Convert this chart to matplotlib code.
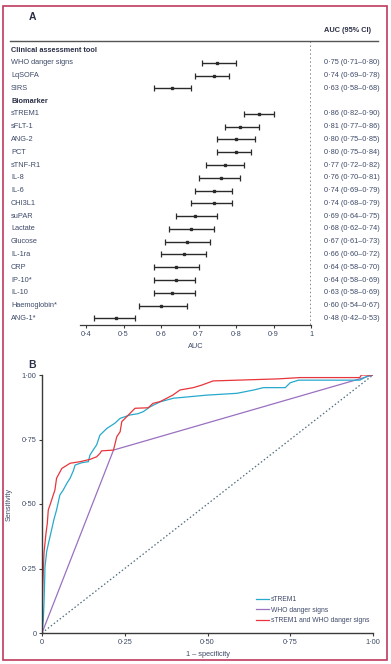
import numpy as np
import matplotlib
matplotlib.use('Agg')
import matplotlib.pyplot as plt
from matplotlib.lines import Line2D
from matplotlib.patches import Rectangle

plt.rcParams['font.family'] = ['Liberation Sans Narrow', 'Liberation Sans', 'DejaVu Sans']

# ---- panel A data ----
groups = ['Clinical assessment tool', 'Biomarker']
clin_labels = ['WHO danger signs', 'LqSOFA', 'SIRS']
clin_auc = [0.75, 0.74, 0.63]
clin_lo = [0.71, 0.69, 0.58]
clin_hi = [0.80, 0.78, 0.68]

bio_labels = ['sTREM1', 'sFLT-1', 'ANG-2', 'PCT', 'sTNF-R1', 'IL-8', 'IL-6', 'CHI3L1',
              'suPAR', 'Lactate', 'Glucose', 'IL-1ra', 'CRP', 'IP-10*', 'IL-10',
              'Haemoglobin*', 'ANG-1*']
bio_auc = [0.86, 0.81, 0.80, 0.80, 0.77, 0.76, 0.74, 0.74, 0.69, 0.68, 0.67, 0.66,
           0.64, 0.64, 0.63, 0.60, 0.48]
bio_lo = [0.82, 0.77, 0.75, 0.75, 0.72, 0.70, 0.69, 0.68, 0.64, 0.62, 0.61, 0.60,
          0.58, 0.58, 0.58, 0.54, 0.42]
bio_hi = [0.90, 0.86, 0.85, 0.84, 0.82, 0.81, 0.79, 0.79, 0.75, 0.74, 0.73, 0.72,
          0.70, 0.69, 0.69, 0.67, 0.53]

forest_ticks = [0.4, 0.5, 0.6, 0.7, 0.8, 0.9, 1.0]

# ---- panel B data ----
strem1_fpr = [0, 0.004, 0.006, 0.008, 0.009, 0.012, 0.014, 0.02, 0.029, 0.036, 0.044, 0.054,
              0.064, 0.075, 0.085, 0.095, 0.10, 0.12, 0.14, 0.145, 0.155, 0.165, 0.175, 0.196,
              0.22, 0.236, 0.266, 0.29, 0.306, 0.327, 0.357, 0.397, 0.498, 0.589, 0.64, 0.669,
              0.735, 0.75, 0.775, 0.96, 0.985, 1.0]
strem1_tpr = [0, 0.05, 0.115, 0.2, 0.257, 0.29, 0.315, 0.35, 0.40, 0.44, 0.477, 0.535,
              0.554, 0.58, 0.60, 0.63, 0.651, 0.66, 0.664, 0.69, 0.71, 0.729, 0.767, 0.793,
              0.813, 0.832, 0.845, 0.85, 0.858, 0.877, 0.896, 0.91, 0.922, 0.929, 0.942, 0.951,
              0.951, 0.97, 0.98, 0.98, 0.997, 1.0]

who_fpr = [0, 0.216, 1.0]
who_tpr = [0, 0.709, 1.0]

comb_fpr = [0, 0.0, 0.002, 0.006, 0.012, 0.016, 0.019, 0.026, 0.034, 0.039, 0.044, 0.06,
            0.085, 0.115, 0.145, 0.165, 0.175, 0.18, 0.216, 0.226, 0.236, 0.241, 0.261, 0.281,
            0.321, 0.335, 0.357, 0.377, 0.395, 0.417, 0.457, 0.483, 0.517, 0.714, 0.78, 0.96,
            0.965, 1.0]
comb_tpr = [0, 0.05, 0.167, 0.31, 0.386, 0.425, 0.477, 0.503, 0.535, 0.554, 0.60, 0.638,
            0.658, 0.664, 0.673, 0.683, 0.696, 0.706, 0.709, 0.761, 0.78, 0.819, 0.845, 0.871,
            0.873, 0.89, 0.897, 0.91, 0.922, 0.942, 0.951, 0.961, 0.977, 0.985, 0.99, 0.99,
            1.0, 1.0]

roc_ticks = [0, 0.25, 0.5, 0.75, 1.0]
roc_ticklabels = ['0', '0·25', '0·50', '0·75', '1·00']

txt_col = '#3e4a68'
axis_col = '#3a3a3a'
fs = 5.3


def fmt(v):
    return '{:.2f}'.format(v).replace('.', '·')


W, H = 391, 664
fig = plt.figure(figsize=(W / 100, H / 100), dpi=100)

# red frame
fig.patches.append(Rectangle((3 / W, 4 / H), 384 / W, 654 / H, transform=fig.transFigure,
                             fill=False, edgecolor='#bf3a5e', linewidth=1.2))

# ---------------- panel A ----------------
axA = fig.add_axes([80.4 / W, 1 - 325 / H, (311 - 80.4) / W, (325 - 41) / H])
row_h = 12.78
axA.set_ylim((325 - 50) / row_h, (41 - 50) / row_h)
axA.set_xlim(0.385, 1.0)

rows = []
rows.append((groups[0], None, None, None, True))
for i in range(len(clin_labels)):
    rows.append((clin_labels[i], clin_auc[i], clin_lo[i], clin_hi[i], False))
rows.append((groups[1], None, None, None, True))
for i in range(len(bio_labels)):
    rows.append((bio_labels[i], bio_auc[i], bio_lo[i], bio_hi[i], False))

tr_lab = matplotlib.transforms.blended_transform_factory(fig.transFigure, axA.transData)
for y, (lab, auc, lo, hi, head) in enumerate(rows):
    if head:
        axA.text(11 / W, y, lab, transform=tr_lab, fontsize=fs, fontweight='bold',
                 color='#2a2f45', va='center', ha='left')
        continue
    axA.text(11 / W, y, lab, transform=tr_lab, fontsize=fs, color=txt_col, va='center', ha='left')
    axA.errorbar(auc, y, xerr=[[auc - lo], [hi - auc]], fmt='s', color='#2b2b2b',
                 ms=1.6, elinewidth=1.0, capsize=2.2, capthick=0.9)
    axA.text(324 / W, y, '{} ({}–{})'.format(fmt(auc), fmt(lo), fmt(hi)), transform=tr_lab,
             fontsize=fs, color=txt_col, va='center', ha='left')

axA.axvline(1.0, color='#66707c', linestyle=(0, (1.0, 1.6)), linewidth=1.1)
for s in ['top', 'right', 'left']:
    axA.spines[s].set_visible(False)
axA.spines['bottom'].set_color(axis_col)
axA.spines['bottom'].set_linewidth(0.9)
axA.set_yticks([])
axA.set_xticks(forest_ticks)
axA.set_xticklabels(['0·4', '0·5', '0·6', '0·7', '0·8', '0·9', '1'])
axA.tick_params(axis='x', length=2.5, width=0.8, color=axis_col, labelsize=fs, labelcolor=txt_col, pad=1.5)
axA.set_xlabel('AUC', fontsize=fs, color=txt_col, labelpad=4)

fig.text(32 / W, 1 - 17 / H, 'A', fontsize=7.5, fontweight='bold', color='#2a2f45', va='center', ha='center')
fig.text(324 / W, 1 - 31 / H, 'AUC (95% CI)', fontsize=fs, fontweight='bold', color='#2a2f45',
         va='center', ha='left')
fig.lines.append(Line2D([10 / W, 378 / W], [1 - 41 / H, 1 - 41 / H], transform=fig.transFigure,
                        color='#555555', linewidth=1.0))

# ---------------- panel B ----------------
axB = fig.add_axes([42 / W, 1 - 633 / H, (373 - 42) / W, (633 - 375) / H])
axB.plot([0, 1], [0, 1], color='#4d6d7a', linestyle=(0, (1.2, 1.8)), linewidth=0.9)
axB.plot(who_fpr, who_tpr, color='#9a70c0', linewidth=0.9, label='WHO danger signs')
axB.plot(strem1_fpr, strem1_tpr, color='#27a9cc', linewidth=0.9, label='sTREM1')
axB.plot(comb_fpr, comb_tpr, color='#e8353b', linewidth=0.9, label='sTREM1 and WHO danger signs')
axB.set_xlim(0, 1.0)
axB.set_ylim(0, 1.0)
axB.set_xticks(roc_ticks)
axB.set_xticklabels(roc_ticklabels)
axB.set_yticks(roc_ticks)
axB.set_yticklabels(roc_ticklabels)
for s in ['top', 'right']:
    axB.spines[s].set_visible(False)
for s in ['left', 'bottom']:
    axB.spines[s].set_color(axis_col)
    axB.spines[s].set_linewidth(1.0)
axB.tick_params(length=2.5, width=0.8, color=axis_col, labelsize=fs, labelcolor=txt_col, pad=1.5)
axB.set_xlabel('1 – specificity', fontsize=fs, color=txt_col, labelpad=4)
axB.set_ylabel('Sensitivity', fontsize=fs, color=txt_col)
axB.yaxis.set_label_coords((13 - 42) / 331, 0.5)

handles = [Line2D([], [], color='#27a9cc', lw=0.9), Line2D([], [], color='#9a70c0', lw=0.9),
           Line2D([], [], color='#e8353b', lw=0.9)]
leg = axB.legend(handles, ['sTREM1', 'WHO danger signs', 'sTREM1 and WHO danger signs'],
                 loc='lower right', bbox_to_anchor=(1.0, 0.02), frameon=False, fontsize=4.9,
                 handlelength=2.0, handletextpad=0.3, labelspacing=0.55, borderpad=0)
for t in leg.get_texts():
    t.set_color(txt_col)

fig.text(32 / W, 1 - 365 / H, 'B', fontsize=7.5, fontweight='bold', color='#2a2f45', va='center', ha='center')

fig.savefig('out.png', dpi=100)
